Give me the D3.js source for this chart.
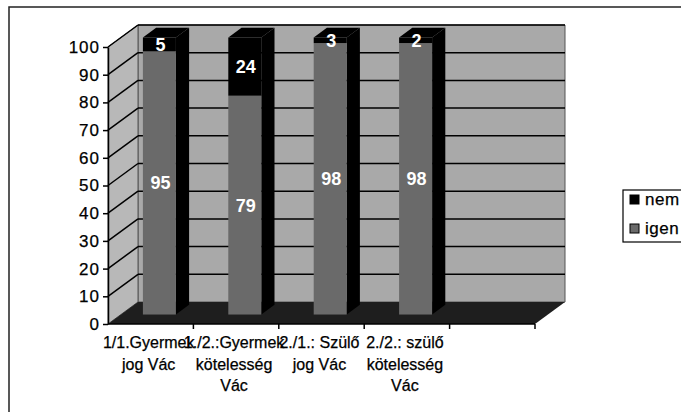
<!DOCTYPE html>
<html>
<head>
<meta charset="utf-8">
<script src="https://d3js.org/d3.v7.min.js"></script>
<style>
  body { margin: 0; background: #fff; }
  text { font-family: "Liberation Sans", Arial, sans-serif; }
  .axis text { font-size: 16px; fill: #000; stroke: #000; stroke-width: 0.25px; }
  .axis path, .axis line { stroke: #000; stroke-width: 1.5px; }
  .yaxis text { font-size: 17px; letter-spacing: 1px; }
</style>
</head>
<body>
<svg id="chart" width="681" height="412"></svg>
<script>

// chart data
var categories = [
  ["1/1.Gyermek", "jog Vác"],
  ["1./2.:Gyermek", "kötelesség", "Vác"],
  ["2./1.: Szülő", "jog Vác"],
  ["2./2.: szülő", "kötelesség", "Vác"],
  [""]
];
var igen = [95, 79, 98, 98, null];
var nem = [5, 24, 3, 2, null];
var seriesNames = ["nem", "igen"];
var yTicks = [0, 10, 20, 30, 40, 50, 60, 70, 80, 90, 100];

var svg = d3.select("#chart");

// 3d box geometry
var depthX = 30, depthY = -22;
var barF1 = 0.43, barF2 = 0.87;   // bar depth (fraction of box depth)

var x = d3.scaleBand().domain(d3.range(categories.length)).range([108, 535]).padding(0);
var y = d3.scaleLinear().domain([0, 100]).range([324, 47]);

var colWall = "#a9a9a9", colSide = "#b8b8b8", colFloor = "#1e1e1e",
    colIgen = "#6a6a6a", colNem = "#000";

function pt(px, py, f) { return [px + depthX * f, py + depthY * f]; }
function poly(pts) { return "M" + pts.map(function(p) { return p.join(","); }).join("L") + "Z"; }

var x0 = x.range()[0], x1 = x.range()[1];

// outer frame
svg.append("path").attr("d", "M9,420L9,7L690,7").attr("fill", "none")
  .attr("stroke", "#222").attr("stroke-width", 1.5);

// back wall
svg.append("path")
  .attr("d", poly([pt(x0, y(0), 1), pt(x0, y(100), 1), pt(x1, y(100), 1), pt(x1, y(0), 1)]))
  .attr("fill", colWall).attr("stroke", "#555").attr("stroke-width", 1);

// side wall
svg.append("path")
  .attr("d", poly([[x0, y(0)], [x0, y(100)], pt(x0, y(100), 1), pt(x0, y(0), 1)]))
  .attr("fill", colSide).attr("stroke", "#555").attr("stroke-width", 1);

// floor
svg.append("path")
  .attr("d", poly([[x0, y(0)], pt(x0, y(0), 1), pt(x1, y(0), 1), [x1, y(0)]]))
  .attr("fill", colFloor);

// gridlines: back wall + side wall diagonals
var grid = yTicks.filter(function(v) { return v > 0; });
svg.selectAll(".gback").data(grid).enter().append("line")
  .attr("x1", x0 + depthX).attr("x2", x1 + depthX)
  .attr("y1", function(d) { return y(d) + depthY; })
  .attr("y2", function(d) { return y(d) + depthY; })
  .attr("stroke", "#000").attr("stroke-width", 1.5);
svg.selectAll(".gside").data(grid).enter().append("line")
  .attr("x1", x0).attr("x2", x0 + depthX)
  .attr("y1", function(d) { return y(d); })
  .attr("y2", function(d) { return y(d) + depthY; })
  .attr("stroke", "#000").attr("stroke-width", 1.5);

// bars
var barW = 33, barOff = 22;
var bars = [];
categories.forEach(function(c, i) {
  if (igen[i] == null) return;
  var segs = [
    { name: "igen", lo: 0, hi: Math.min(igen[i], 100), val: igen[i], fill: colIgen },
    { name: "nem", lo: Math.min(igen[i], 100), hi: Math.min(igen[i] + nem[i], 100), val: nem[i], fill: colNem }
  ];
  bars.push({ i: i, segs: segs });
});

bars.forEach(function(b) {
  var bx = x(b.i) + barOff + depthX * barF1;
  var fdy = depthY * barF1;
  var ddx = depthX * (barF2 - barF1), ddy = depthY * (barF2 - barF1);
  var g = svg.append("g");
  var top = b.segs[b.segs.length - 1].hi;
  // right side face
  g.append("path")
    .attr("d", poly([[bx + barW, y(0) + fdy], [bx + barW, y(top) + fdy],
                     [bx + barW + ddx, y(top) + fdy + ddy], [bx + barW + ddx, y(0) + fdy + ddy]]))
    .attr("fill", "#000");
  // top face
  g.append("path")
    .attr("d", poly([[bx, y(top) + fdy], [bx + ddx, y(top) + fdy + ddy],
                     [bx + barW + ddx, y(top) + fdy + ddy], [bx + barW, y(top) + fdy]]))
    .attr("fill", "#000");
  // front faces
  g.selectAll("rect").data(b.segs).enter().append("rect")
    .attr("x", bx).attr("width", barW)
    .attr("y", function(d) { return y(d.hi) + fdy; })
    .attr("height", function(d) { return y(d.lo) - y(d.hi); })
    .attr("fill", function(d) { return d.fill; });
  // value labels
  g.selectAll("text").data(b.segs).enter().append("text")
    .attr("x", bx + barW / 2 + 1)
    .attr("y", function(d) { return (y(d.lo) + y(d.hi)) / 2 + fdy; })
    .attr("dy", "0.36em")
    .attr("text-anchor", "middle")
    .attr("fill", "#fff").attr("font-weight", "bold").attr("font-size", "18px")
    .text(function(d) { return d.val; });
});

// y axis
svg.append("g").attr("class", "axis yaxis")
  .attr("transform", "translate(" + x0 + ",0)")
  .call(d3.axisLeft(y).tickValues(yTicks).tickSize(5).tickPadding(3).tickSizeOuter(0));

// x axis line + ticks at category boundaries
var xa = svg.append("g").attr("class", "axis");
xa.append("line").attr("x1", x0).attr("x2", x1).attr("y1", y(0)).attr("y2", y(0));
var bounds = categories.map(function(c, i) { return x(i) + x.bandwidth(); });
xa.selectAll(".xt").data(bounds).enter().append("line")
  .attr("x1", function(d) { return d; }).attr("x2", function(d) { return d; })
  .attr("y1", y(0)).attr("y2", y(0) + 5);

// category labels
categories.forEach(function(lines, i) {
  var t = svg.append("g").attr("class", "axis").append("text")
    .attr("text-anchor", "middle");
  lines.forEach(function(s, k) {
    t.append("tspan").attr("x", x(i) + x.bandwidth() / 2 - 2)
      .attr("y", 348 + k * 21.5).text(s);
  });
});

// legend
var lg = svg.append("g").attr("class", "axis").attr("transform", "translate(623,190)");
lg.append("rect").attr("width", 80).attr("height", 52)
  .attr("fill", "#fff").attr("stroke", "#000").attr("stroke-width", 1.2);
var legCols = { nem: colNem, igen: colIgen };
seriesNames.forEach(function(n, k) {
  lg.append("rect").attr("x", 7).attr("y", 5 + k * 29).attr("width", 9).attr("height", 9)
    .attr("fill", legCols[n]).attr("stroke", "#000").attr("stroke-width", 1);
  lg.append("text").attr("x", 22).attr("y", 15 + k * 29)
    .style("font-size", "17px").style("letter-spacing", "0.5px").text(n);
});

</script>
</body>
</html>
